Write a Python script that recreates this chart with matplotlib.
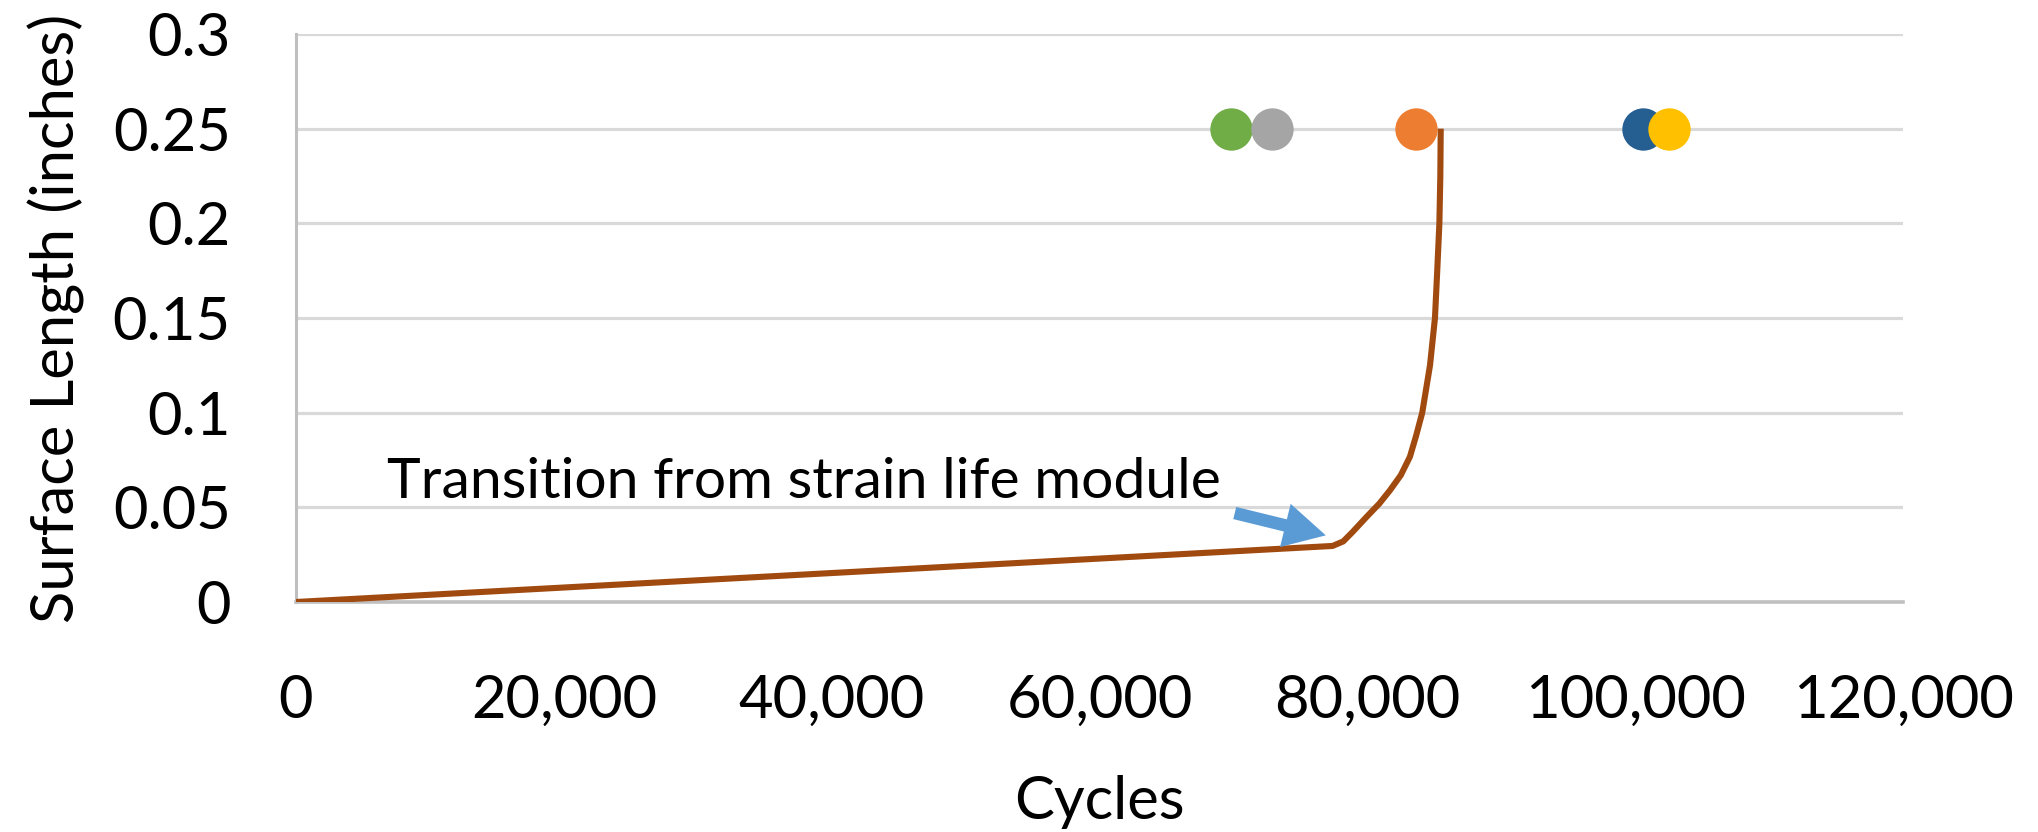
import matplotlib
matplotlib.use("Agg")
import matplotlib.pyplot as plt
from matplotlib.ticker import FuncFormatter

plt.rcParams['font.family'] = ['Lato', 'DejaVu Sans']

# crack growth curve (cycles vs surface length)
growth_cycles = [0, 77400, 78200, 78900, 79950, 80900, 81690, 82500, 83180,
                 83650, 84100, 84680, 85050, 85220, 85380, 85450, 85480]
growth_length = [0, 0.0296, 0.032, 0.037, 0.045, 0.052, 0.059, 0.067, 0.0767,
                 0.088, 0.10, 0.125, 0.15, 0.175, 0.20, 0.225, 0.25]

# test failures at 0.25 in
test_cycles = [69800, 72900, 83600, 100600, 102500]
test_length = [0.25, 0.25, 0.25, 0.25, 0.25]
test_colors = ['#70AD47', '#A5A5A5', '#ED7D31', '#255E91', '#FFC000']

x_ticks = [0, 20000, 40000, 60000, 80000, 100000, 120000]
y_ticks = [0, 0.05, 0.1, 0.15, 0.2, 0.25, 0.3]
y_labels = ['0', '0.05', '0.1', '0.15', '0.2', '0.25', '0.3']

note_text = 'Transition from strain life module'
note_pos = (6800, 0.0549)
arrow_tail = (70100, 0.047)
arrow_tip = (76900, 0.0352)

fig = plt.figure(figsize=(20.38, 8.32), dpi=100)
ax = fig.add_axes([0.14524, 0.27644, 0.78852, 0.68269])

ax.plot(growth_cycles, growth_length, color='#A04A10', lw=4.4, zorder=3,
        solid_capstyle='butt', solid_joinstyle='round')
for cx, cy, col in zip(test_cycles, test_length, test_colors):
    ax.plot(cx, cy, 'o', color=col, markersize=30.5, markeredgewidth=0, zorder=4)

ax.annotate('', xy=arrow_tip, xytext=arrow_tail,
            arrowprops=dict(arrowstyle='simple,head_length=3.0,head_width=3.2,tail_width=0.9',
                            mutation_scale=10, color='#5B9BD5', lw=0,
                            shrinkA=0, shrinkB=0), zorder=5)
ax.text(note_pos[0], note_pos[1], note_text, fontsize=41, ha='left', va='baseline',
        color='#000000', zorder=6)

ax.set_xlim(0, 120000)
ax.set_ylim(0, 0.3)
ax.set_xticks(x_ticks)
ax.set_yticks(y_ticks)
ax.set_yticklabels(y_labels)
ax.xaxis.set_major_formatter(FuncFormatter(lambda v, p: '{:,.0f}'.format(v)))
ax.tick_params(axis='both', length=0, labelsize=43)
ax.tick_params(axis='x', pad=52)
ax.tick_params(axis='y', pad=47)

ax.grid(axis='y', color='#D9D9D9', lw=2.3, zorder=0)
ax.set_axisbelow(True)
for s in ['top', 'right']:
    ax.spines[s].set_visible(False)
ax.spines['left'].set_color('#BFBFBF')
ax.spines['left'].set_linewidth(2.2)
ax.spines['bottom'].set_color('#BFBFBF')
ax.spines['bottom'].set_linewidth(2.6)

ax.set_xlabel('Cycles', fontsize=43, labelpad=34)
ax.set_ylabel('Surface Length (inches)', fontsize=43, labelpad=20)

fig.savefig('out.png', dpi=100)
